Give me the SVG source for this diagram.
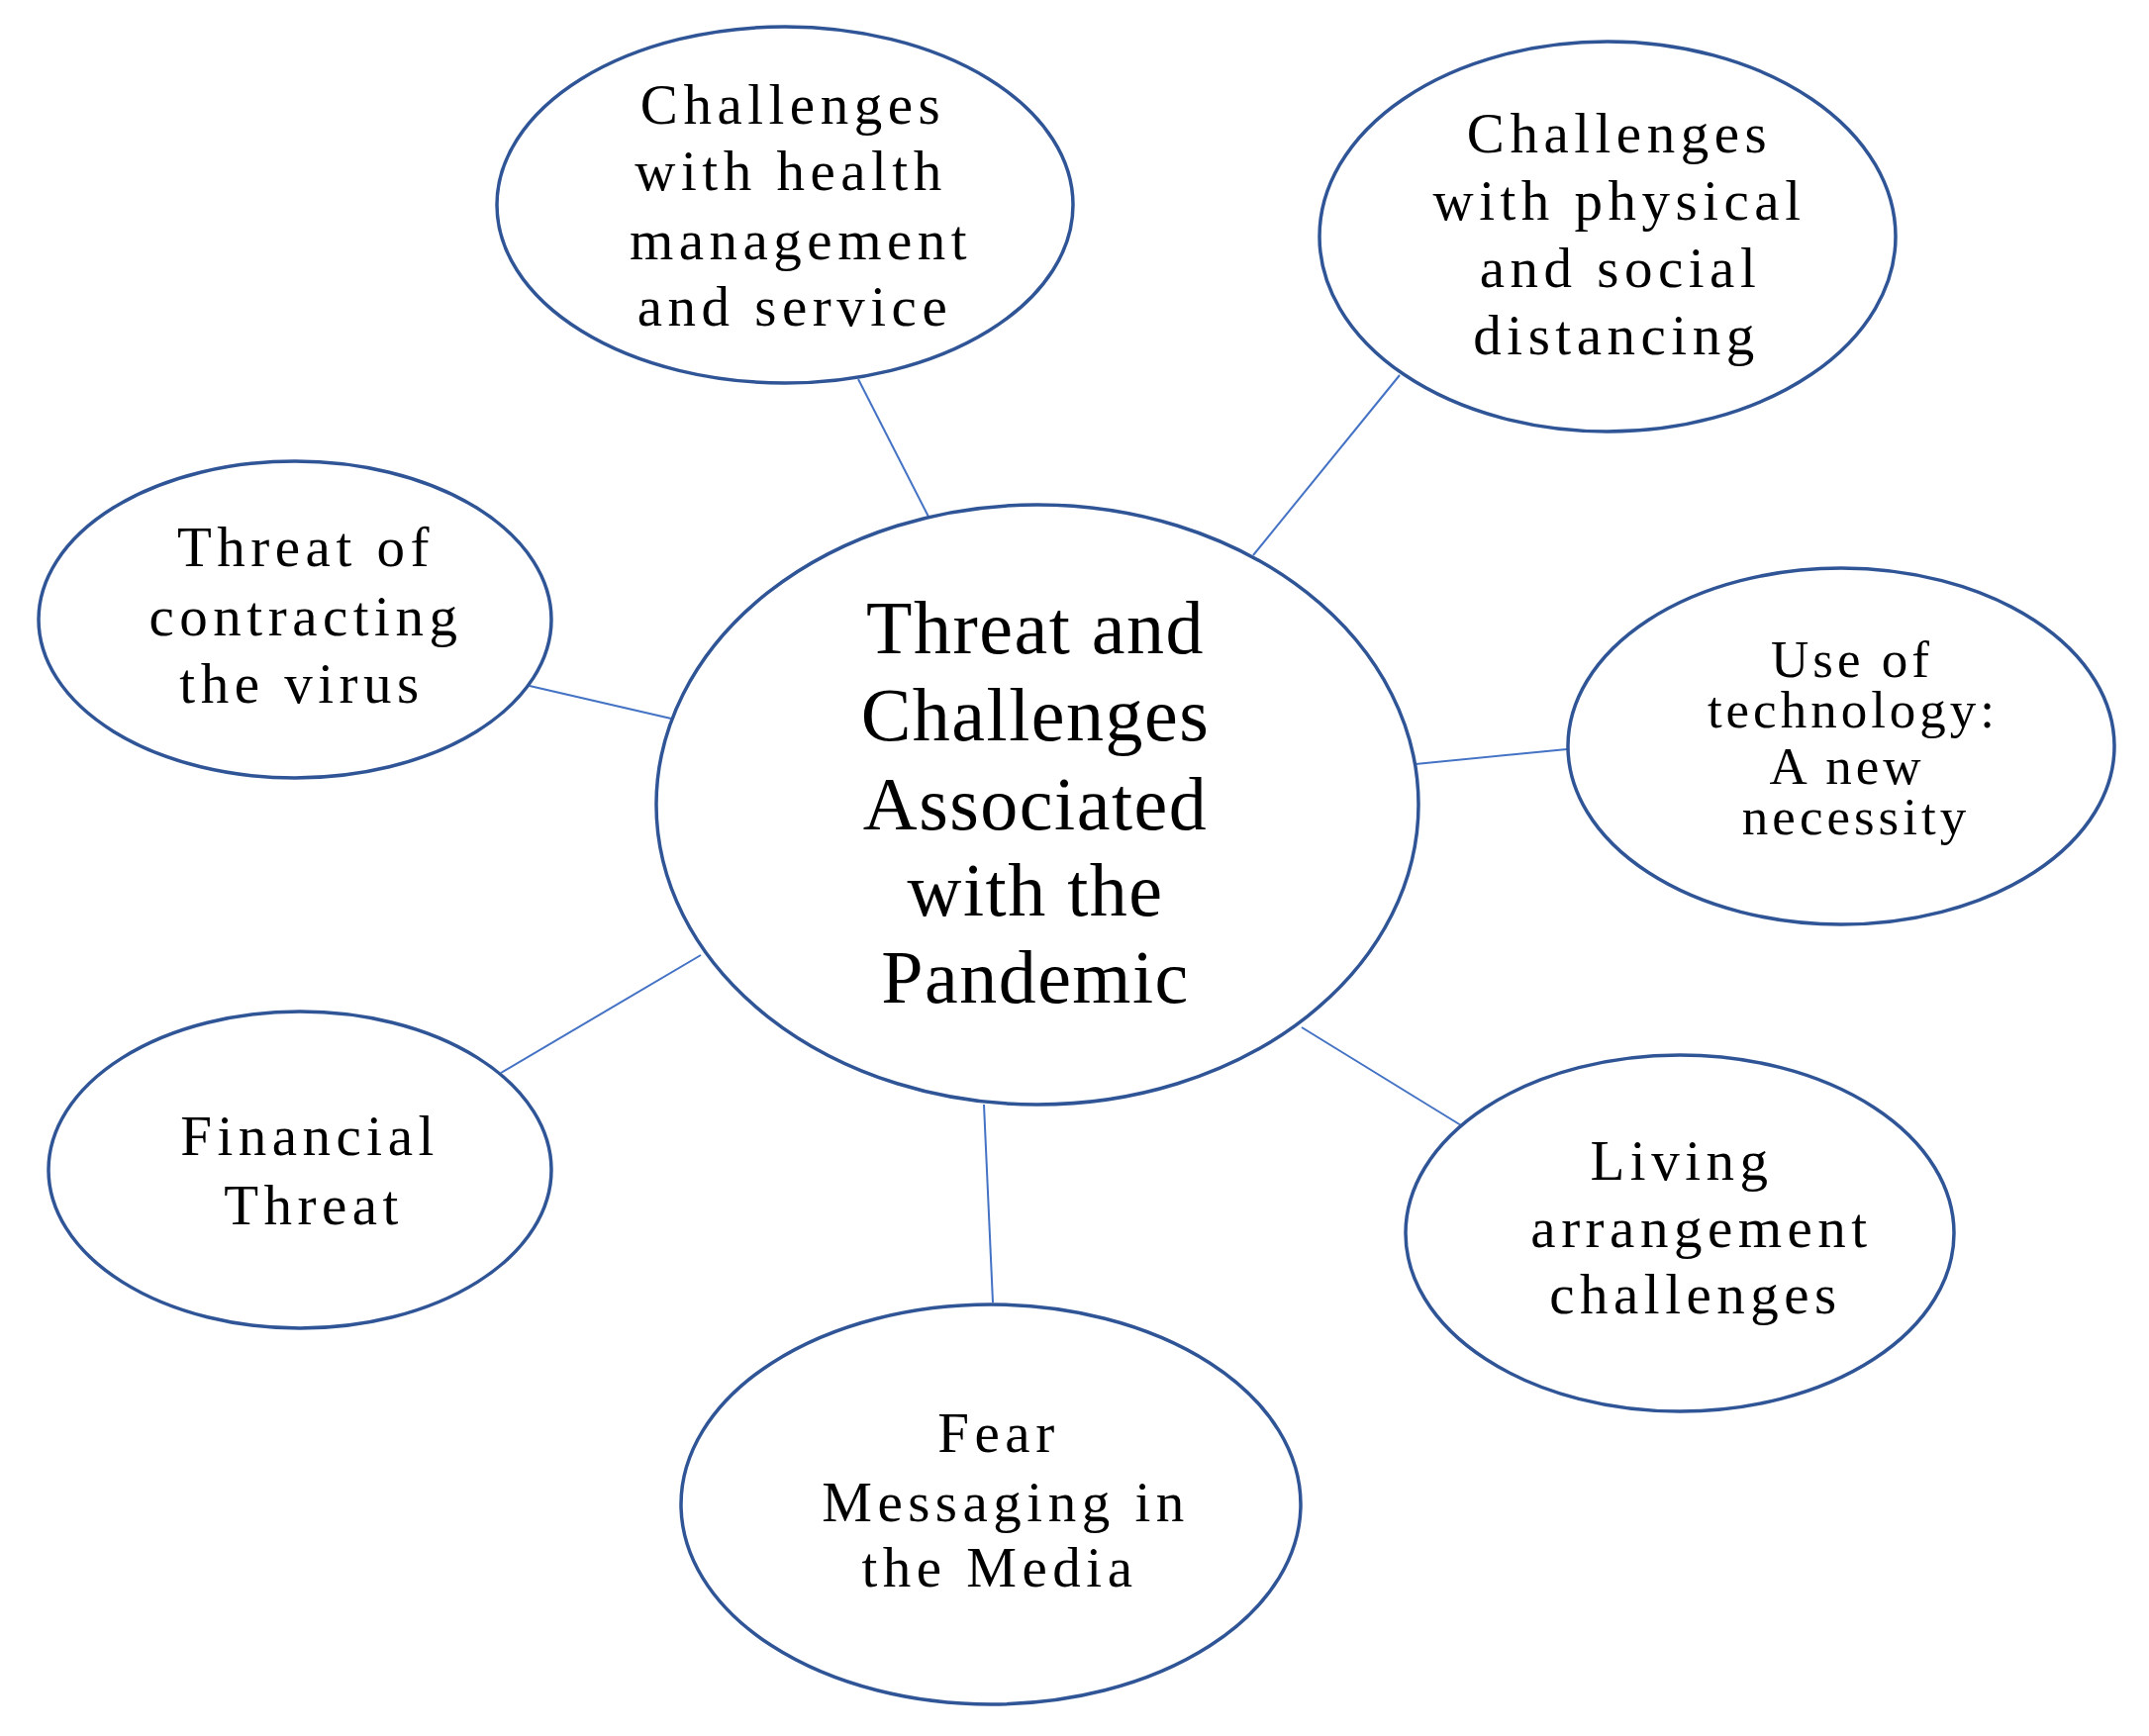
<svg xmlns="http://www.w3.org/2000/svg" width="2171" height="1754" viewBox="0 0 2171 1754">
<style>
.node{fill:#fff;stroke:#2F5597;stroke-width:3.5}
.conn line{stroke:#4472C4;stroke-width:2}
.t{font-family:"Liberation Serif","Times New Roman",serif;font-size:57px;fill:#000;text-anchor:middle;letter-spacing:5.5px}
.s{font-size:53px;letter-spacing:4px}
.c{font-family:"Liberation Serif","Times New Roman",serif;font-size:76px;fill:#000;text-anchor:middle;letter-spacing:1.5px}
</style>
<rect width="2171" height="1754" fill="#fff"/>
<g id="connectors" class="conn">
<line x1="867" y1="383" x2="938" y2="522"/>
<line x1="1414" y1="379" x2="1266" y2="561"/>
<line x1="535" y1="693" x2="678" y2="726"/>
<line x1="1430" y1="772" x2="1583" y2="757"/>
<line x1="708" y1="965" x2="506" y2="1084"/>
<line x1="1315" y1="1038" x2="1476" y2="1137"/>
<line x1="994" y1="1116" x2="1003" y2="1316"/>
</g>
<g id="center">
<ellipse class="node" cx="1048" cy="813" rx="385" ry="303"/>
<text class="c" x="1046" y="660">Threat and</text>
<text class="c" x="1046" y="748">Challenges</text>
<text class="c" x="1046" y="838">Associated</text>
<text class="c" x="1046" y="925">with the</text>
<text class="c" x="1046" y="1013">Pandemic</text>
</g>
<g id="health">
<ellipse class="node" cx="793" cy="207" rx="291" ry="180"/>
<text class="t" x="801" y="125">Challenges</text>
<text class="t" x="799" y="192">with health</text>
<text class="t" x="809" y="262">management</text>
<text class="t" x="803" y="329">and service</text>
</g>
<g id="distancing">
<ellipse class="node" cx="1624" cy="239" rx="291" ry="197"/>
<text class="t" x="1636" y="154">Challenges</text>
<text class="t" x="1636" y="222">with physical</text>
<text class="t" x="1637" y="290">and social</text>
<text class="t" x="1633" y="358">distancing</text>
</g>
<g id="contracting">
<ellipse class="node" cx="298" cy="626" rx="259" ry="160"/>
<text class="t" x="309" y="572">Threat of</text>
<text class="t" x="309" y="642">contracting</text>
<text class="t" x="305" y="710">the virus</text>
</g>
<g id="technology">
<ellipse class="node" cx="1860" cy="754" rx="276" ry="180"/>
<text class="t s" x="1871" y="684">Use of</text>
<text class="t s" x="1872" y="735">technology:</text>
<text class="t s" x="1866" y="792">A new</text>
<text class="t s" x="1875" y="843">necessity</text>
</g>
<g id="financial">
<ellipse class="node" cx="303" cy="1182" rx="254" ry="160"/>
<text class="t" x="313" y="1167">Financial</text>
<text class="t" x="317" y="1237">Threat</text>
</g>
<g id="living">
<ellipse class="node" cx="1697" cy="1246" rx="277" ry="180"/>
<text class="t" x="1699" y="1192">Living</text>
<text class="t" x="1719" y="1260">arrangement</text>
<text class="t" x="1713" y="1327">challenges</text>
</g>
<g id="media">
<ellipse class="node" cx="1001" cy="1520" rx="313" ry="202"/>
<text class="t" x="1009" y="1467">Fear</text>
<text class="t" x="1016" y="1537">Messaging in</text>
<text class="t" x="1010" y="1603">the Media</text>
</g>
</svg>
